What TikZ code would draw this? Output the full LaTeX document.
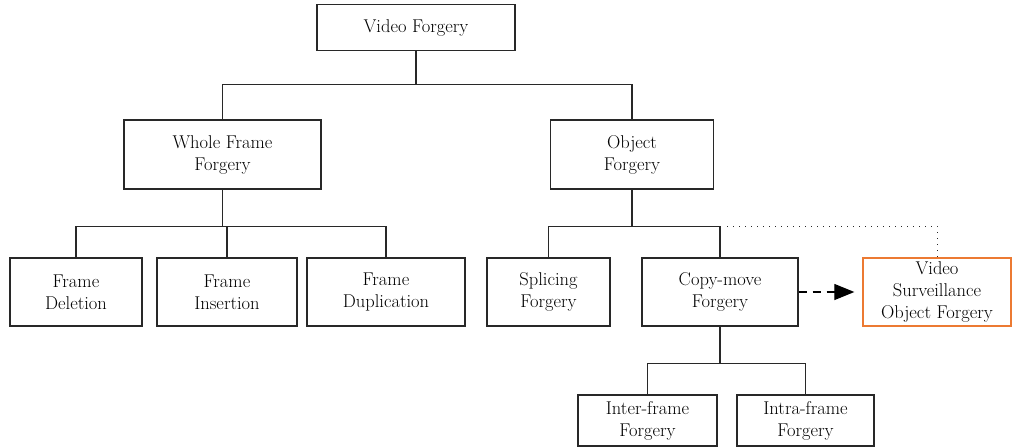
\documentclass[tikz,border=0pt]{standalone}
\usetikzlibrary{arrows.meta}
\definecolor{lineg}{RGB}{40,40,40}
\definecolor{orng}{RGB}{236,122,50}
\begin{document}
\begin{tikzpicture}[x=1pt,y=-1pt,
  box/.style={draw=lineg,line width=1.3pt,rectangle,align=center,inner sep=0pt,
    font=\fontsize{18.5}{22}\selectfont,text=black},
  conn/.style={draw=lineg,line width=1.3pt}]
\useasboundingbox (0,0) rectangle (1013,447);
\node[box,minimum width=198pt,minimum height=46pt] (vf) at (416,27.5) {Video Forgery};
\node[box,minimum width=197pt,minimum height=69pt] (wf) at (222.5,154.5) {Whole Frame\\Forgery};
\node[box,minimum width=163pt,minimum height=69pt] (of) at (632,154.5) {Object\\Forgery};
\node[box,minimum width=132pt,minimum height=68pt] (fd) at (76,292) {Frame\\Deletion};
\node[box,minimum width=140pt,minimum height=68pt] (fi) at (227,292) {Frame\\Insertion};
\node[box,minimum width=158pt,minimum height=68pt] (fdu) at (386,292) {Frame\\Duplication};
\node[box,minimum width=123pt,minimum height=68pt] (sf) at (548.5,292) {Splicing\\Forgery};
\node[box,minimum width=156pt,minimum height=68pt] (cm) at (720,292) {Copy-move\\Forgery};
\node[box,draw=orng,minimum width=148pt,minimum height=68pt] (vs) at (937,292) {Video\\Surveillance\\Object Forgery};
\node[box,minimum width=139pt,minimum height=51pt] (ie) at (647.5,420.5) {Inter-frame\\Forgery};
\node[box,minimum width=137pt,minimum height=51pt] (ia) at (805.5,420.5) {Intra-frame\\Forgery};
% top level
\draw[conn] (vf.south) -- ++(0,33.5) -| (wf.north);
\draw[conn] (vf.south) -- ++(0,33.5) -| (of.north);
% whole frame children
\draw[conn] (wf.south) -- ++(0,37) -| (fd.north);
\draw[conn] (wf.south) -- ++(0,37) -| (fi.north);
\draw[conn] (wf.south) -- ++(0,37) -| (fdu.north);
% object children
\draw[conn] (of.south) -- ++(0,37) -| (sf.north);
\draw[conn] (of.south) -- ++(0,37) -| (cm.north);
% copy-move children
\draw[conn] (cm.south) -- ++(0,37) -| (ie.north);
\draw[conn] (cm.south) -- ++(0,37) -| (ia.north);
% dotted link
\coordinate (dstart) at (727,226);
\draw[draw=lineg,line width=1pt,dash pattern=on 1pt off 5pt] (dstart) -| (vs.north);
% dashed arrow
\draw[draw=black,line width=1.2pt,dash pattern=on 8pt off 6pt,
  -{Triangle[length=20pt,width=16pt]},shorten >=8pt] (cm.east) -- (vs.west);
\end{tikzpicture}
\end{document}
